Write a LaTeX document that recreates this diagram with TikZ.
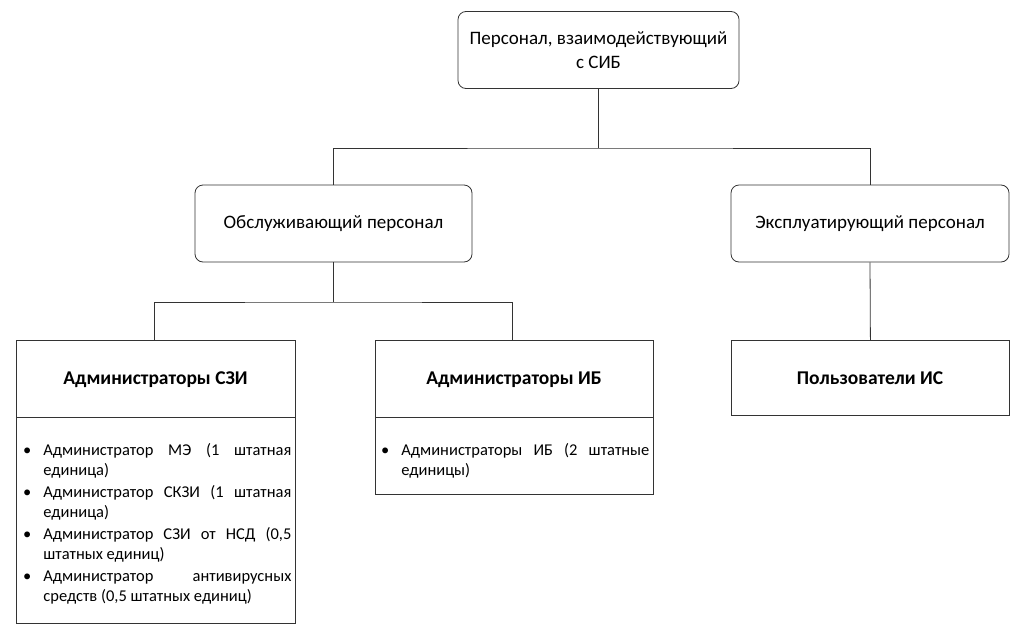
\documentclass[tikz,border=0pt]{standalone}
\usepackage{fontspec}
\setmainfont{Carlito}
\usepackage{enumitem}
\usetikzlibrary{positioning}

\begin{document}
\begin{tikzpicture}[x=1pt, y=-1pt, line width=0.8pt,
                roundbox/.style={draw=black!80, rounded corners=8pt, minimum height=77pt, align=center, font=\fontsize{19}{24}\selectfont},
                squarebox/.style={draw=black!80, minimum width=279pt, align=center, anchor=north west},
                headtext/.style={font=\fontsize{19.5}{24}\selectfont\bfseries},
                listtext/.style={text width=266pt, anchor=north west, inner sep=0pt, align=justify, font=\fontsize{16.5}{19.5}\selectfont}]
            \useasboundingbox (0,0) rectangle (1024,640);
            % Top levels
            \node[roundbox, minimum width=281pt] (staff) at (598.5,50) {Персонал, взаимодействующий\\с СИБ};
            \node[roundbox, minimum width=277pt] (service) at (333.5,223.5) {Обслуживающий персонал};
            \node[roundbox, minimum width=278pt] (operate) at (870,223.5) {Эксплуатирующий персонал};
            % Lower boxes
            \node[squarebox, minimum height=283pt] (szi) at (16,340) {};
            \node[squarebox, minimum height=154pt, minimum width=278pt] (ib) at (375,340) {};
            \node[squarebox, minimum height=75pt, minimum width=278pt] (users) at (731,340) {};
            \node[headtext] (szihead) at (155.5,380) {Администраторы СЗИ};
            \node[headtext] (ibhead) at (514,380) {Администраторы ИБ};
            \node[headtext] (usershead) at (870,378.5) {Пользователи ИС};
            \draw[black!80] (szi.west |- 0,417) -- (szi.east |- 0,417);
            \draw[black!80] (ib.west |- 0,417) -- (ib.east |- 0,417);
            % Lists
            \node[listtext, text width=269pt] (szilist) at (22,436) {%
                \begin{itemize}[leftmargin=21pt, labelsep=12pt, itemsep=3pt, topsep=0pt, parsep=0pt]
                \item Администратор МЭ (1 штатная единица)
                \item Администратор СКЗИ (1 штатная единица)
                \item Администратор СЗИ от НСД (0,5 штатных единиц)
                \item Администратор антивирусных средств (0,5 штатных единиц)
                \end{itemize}};
            \node[listtext, text width=269pt] (iblist) at (380,436) {%
                \begin{itemize}[leftmargin=21pt, labelsep=12pt, topsep=0pt, parsep=0pt]
                \item Администраторы ИБ (2 штатные единицы)
                \end{itemize}};
            % Connectors
            \coordinate (fork1) at (staff.south |- 0,148);
            \coordinate (fork2) at (service.south |- 0,302);
            \draw[black!80] (staff.south) -- (fork1);
            \draw[black!80] (service.north) |- (fork1) -| (operate.north);
            \draw[black!80] (service.south) -- (fork2);
            \draw[black!80] (szi.north -| 154,0) |- (fork2) -| (ib.north -| 512,0);
            \draw[black!80] (operate.south) -- (users.north);
\end{tikzpicture}
\end{document}
